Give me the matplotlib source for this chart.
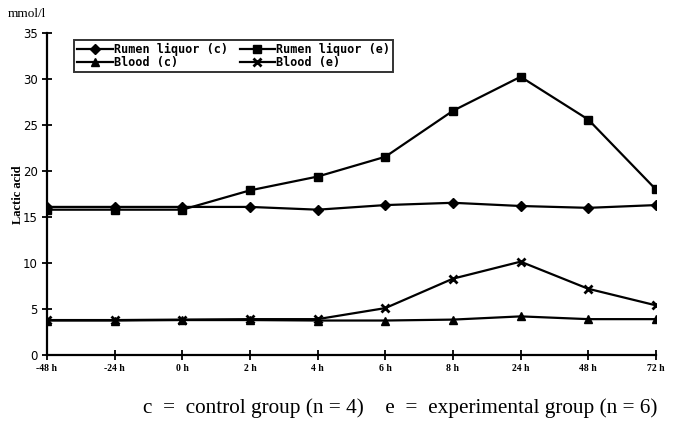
import matplotlib.pyplot as plt
import numpy as np

# time points and lactic acid values (mmol/l)
times = ["-48 h", "-24 h", "0 h", "2 h", "4 h", "6 h", "8 h", "24 h", "48 h", "72 h"]
rumen_c = [16.1, 16.1, 16.1, 16.1, 15.8, 16.3, 16.55, 16.2, 16.0, 16.3]
rumen_e = [15.8, 15.8, 15.8, 17.9, 19.4, 21.55, 26.55, 30.25, 25.6, 18.0]
blood_c = [3.75, 3.75, 3.8, 3.8, 3.75, 3.75, 3.85, 4.2, 3.9, 3.9]
blood_e = [3.8, 3.8, 3.85, 3.9, 3.9, 5.1, 8.3, 10.15, 7.2, 5.4]

x = np.arange(len(times))

fig = plt.figure(figsize=(6.79, 4.24), dpi=100)
ax = fig.add_axes([0.0692, 0.1627, 0.8968, 0.7593])

l1, = ax.plot(x, rumen_c, "-", color="black", lw=1.6, marker="D", ms=5, label="Rumen liquor (c)")
l2, = ax.plot(x, rumen_e, "-", color="black", lw=1.6, marker="s", ms=5.5, label="Rumen liquor (e)")
l3, = ax.plot(x, blood_c, "-", color="black", lw=1.6, marker="^", ms=5.5, label="Blood (c)")
l4, = ax.plot(x, blood_e, "-", color="black", lw=1.6, marker="x", ms=6, mew=2, label="Blood (e)")

ax.set_xlim(0, len(times) - 1)
ax.set_ylim(0, 35)
ax.set_yticks(range(0, 36, 5))
ax.set_xticks(x)
ax.set_xticklabels(times, family="Liberation Serif", fontweight="bold", fontsize=7)
for lab in ax.get_yticklabels():
    lab.set_fontsize(8.5)
ax.tick_params(direction="inout", length=7, width=1.3, pad=3)
ax.spines["top"].set_visible(False)
ax.spines["right"].set_visible(False)
ax.spines["left"].set_linewidth(1.6)
ax.spines["bottom"].set_linewidth(1.6)

# legend filled row by row like the original
leg = ax.legend([l1, l3, l2, l4], [l1.get_label(), l3.get_label(), l2.get_label(), l4.get_label()],
                ncol=2, loc="upper left", bbox_to_anchor=(0.035, 0.998), frameon=True,
                fancybox=False, edgecolor="black", borderpad=0.25, labelspacing=0.05,
                handlelength=3.0, handletextpad=0.1, columnspacing=1.0,
                prop={"family": "DejaVu Sans Mono", "weight": "bold", "size": 8.5})
leg.get_frame().set_linewidth(1.4)

fig.text(0.012, 0.968, "mmol/l", family="Liberation Serif", fontsize=9.5, va="center")
fig.text(0.027, 0.54, "Lactic acid", family="Liberation Serif", fontweight="bold",
         fontsize=9, rotation=90, va="center", ha="center")
fig.text(0.21, 0.038, "c  =  control group (n = 4)    e  =  experimental group (n = 6)",
         family="Liberation Serif", fontsize=15.3, va="center")

fig.savefig("out.png", dpi=100)
